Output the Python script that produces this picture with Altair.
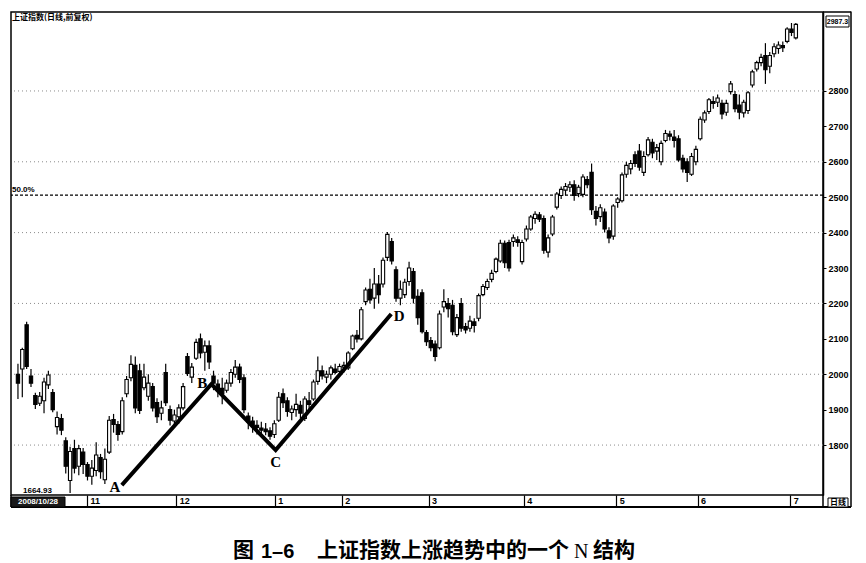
import altair as alt
import pandas as pd

# ---------------- data ----------------
opens = [2000,2015,2140,1995,1940,1918,1925,1970,1948,1852,
         1875,1812,1700,1790,1740,1780,1745,1712,1728,1765,
         1702,1780,1872,1858,1838,1945,1990,2025,2010,1962,
         1938,1965,1920,1890,2005,1900,1868,1880,1905,2050,
         1992,2045,2100,2062,2080,1995,1972,1960,1955,1975,
         2000,2020,1990,1882,1868,1856,1848,1845,1840,1830,
         1870,1945,1925,1892,1900,1912,1875,1925,1930,1980,
         2010,1992,2000,2015,2008,2020,2018,2072,2110,2100,
         2205,2240,2215,2255,2255,2330,2375,2295,2215,2225,
         2262,2290,2220,2230,2118,2095,2085,2075,2190,2200,
         2195,2112,2200,2135,2130,2148,2158,2225,2245,2268,
         2290,2320,2370,2372,2375,2380,2318,2382,2410,2440,
         2450,2440,2345,2396,2472,2505,2520,2528,2535,2510,
         2508,2550,2570,2460,2445,2458,2405,2390,2485,2490,
         2565,2580,2620,2630,2570,2620,2655,2630,2600,2660,
         2678,2670,2665,2610,2600,2565,2600,2665,2718,2742,
         2770,2768,2765,2740,2798,2790,2760,2738,2745,2817,
         2862,2880,2900,2870,2905,2920,2928,2940,2975,2950]

highs = [2030,2075,2148,2015,1948,1950,1990,2010,1958,1895,
         1888,1822,1795,1815,1800,1792,1752,1758,1808,1775,
         1790,1882,1888,1868,1935,1995,2054,2050,2030,2030,
         2000,1975,1932,1925,2030,1912,1900,1915,1975,2060,
         2032,2100,2115,2095,2095,2010,1985,1990,1985,2015,
         2040,2030,2000,1892,1880,1870,1866,1862,1850,1870,
         1950,1960,1935,1912,1945,1925,1938,1950,1985,2050,
         2025,2010,2025,2030,2030,2035,2065,2112,2125,2190,
         2245,2270,2300,2280,2330,2402,2385,2305,2265,2270,
         2318,2300,2240,2240,2125,2105,2095,2180,2240,2215,
         2210,2170,2215,2145,2165,2158,2228,2255,2270,2295,
         2330,2380,2378,2380,2395,2390,2380,2420,2450,2460,
         2458,2448,2395,2450,2515,2530,2540,2545,2548,2535,
         2565,2560,2595,2475,2480,2468,2415,2480,2500,2570,
         2600,2605,2630,2650,2630,2670,2665,2650,2660,2690,
         2688,2690,2675,2620,2610,2625,2645,2728,2745,2780,
         2785,2790,2775,2775,2828,2800,2790,2775,2800,2860,
         2885,2905,2935,2910,2935,2940,2940,2980,2992,2992]

lows = [1930,1935,2015,1964,1902,1910,1890,1958,1893,1830,
        1828,1720,1665,1720,1715,1718,1700,1688,1712,1705,
        1690,1775,1835,1812,1830,1935,1980,1890,1888,1955,
        1925,1895,1862,1870,1910,1855,1850,1860,1898,1995,
        1975,2040,2045,2010,2015,1955,1935,1915,1948,1965,
        1990,1975,1890,1845,1835,1830,1830,1828,1815,1820,
        1865,1905,1880,1870,1880,1875,1868,1900,1925,1970,
        1985,1975,1985,2000,1998,2005,2012,2068,2090,2095,
        2195,2200,2185,2200,2245,2320,2310,2205,2195,2215,
        2250,2200,2140,2115,2080,2065,2037,2070,2175,2160,
        2110,2105,2120,2115,2120,2118,2150,2220,2238,2260,
        2285,2315,2300,2290,2360,2360,2310,2375,2405,2425,
        2430,2340,2330,2390,2465,2495,2505,2515,2490,2500,
        2500,2525,2450,2420,2430,2400,2370,2380,2470,2485,
        2555,2565,2585,2575,2560,2615,2610,2605,2590,2655,
        2660,2640,2600,2570,2543,2560,2590,2660,2710,2735,
        2750,2755,2720,2730,2790,2740,2720,2725,2735,2810,
        2855,2870,2820,2850,2895,2905,2910,2935,2955,2945]

closes = [1975,2070,2022,1975,1915,1938,1978,1998,1900,1878,
          1842,1740,1782,1735,1790,1745,1712,1735,1772,1725,
          1760,1870,1858,1830,1925,1985,2028,1905,1898,1992,
          1975,1905,1880,1905,1920,1870,1885,1905,1965,2002,
          2020,2090,2060,2080,2035,1975,1955,1945,1975,2005,
          2020,1985,1900,1865,1855,1850,1842,1838,1825,1860,
          1935,1920,1895,1902,1915,1890,1930,1915,1978,2010,
          1995,2000,2018,2005,2022,2025,2060,2108,2100,2182,
          2238,2210,2255,2225,2322,2395,2320,2215,2240,2260,
          2300,2215,2160,2120,2092,2075,2050,2170,2205,2185,
          2120,2160,2130,2125,2150,2138,2222,2248,2262,2285,
          2325,2370,2315,2300,2385,2372,2372,2410,2444,2452,
          2438,2350,2385,2444,2509,2522,2530,2535,2505,2528,
          2557,2535,2465,2440,2470,2410,2385,2475,2495,2563,
          2590,2595,2595,2585,2615,2662,2625,2640,2652,2680,
          2672,2660,2605,2580,2570,2615,2635,2720,2738,2775,
          2765,2780,2735,2765,2820,2750,2740,2768,2795,2854,
          2880,2895,2860,2900,2925,2930,2922,2975,2965,2988]

month_ticks = [15.9, 36.4, 59.1, 74.5, 94.5, 116.4, 137.7, 156.4, 177.7]
month_labels = ["11", "12", "1", "2", "3", "4", "5", "6", "7"]
price_ticks = [1800, 1900, 2000, 2100, 2200, 2300, 2400, 2500, 2600, 2700, 2800]
grid_levels = [1800, 2000, 2200, 2400, 2600, 2800]
fib_level = 2506
fib_label = "50.0%"
n_labels = ["A", "B", "C", "D"]
n_idx = [23.9, 44.5, 59.3, 85.9]
n_price = [1687, 1972, 1786, 2170]
low_label = "1664.93"
low_date = "2008/10/28"
last_label = "2987.3"
title_text = "上证指数(日线,前复权)"
period_text = "日线"
caption_fig = "图"
caption_num = "1–6"
caption_main = "上证指数上涨趋势中的一个"
caption_n = "N"
caption_end = "结构"

# ---------------- tables ----------------
df = pd.DataFrame({"i": list(range(len(closes))), "open": opens, "high": highs,
                   "low": lows, "close": closes})
grid_df = pd.DataFrame({"level": grid_levels})
fib_df = pd.DataFrame({"level": [fib_level], "label": [fib_label]})
n_df = pd.DataFrame({"idx": n_idx, "price": n_price, "label": n_labels,
                     "order": list(range(len(n_labels)))})
one = pd.DataFrame({"k": [0]})

W, H = 812, 483
xs = alt.Scale(domain=[-0.45, 184.1], nice=False, zero=False)
ys = alt.Scale(domain=[1659, 3023], nice=False, zero=False)

label_expr = ("[" + ",".join("'%s'" % m for m in month_labels) + "][indexof(["
              + ",".join(str(v) for v in month_ticks) + "], datum.value)]")

x_axis = alt.Axis(values=month_ticks, labelExpr=label_expr, tickSize=11, tickColor="black",
                  tickWidth=1.2, domain=False, grid=False, labelAlign="left",
                  labelBaseline="top", labelPadding=-10, labelOffset=3, labelFontSize=9,
                  labelFontWeight="bold", labelColor="black", labelFont="Liberation Sans",
                  labelFlush=False, labelOverlap=False, title=None)
y_axis = alt.Axis(orient="right", values=price_ticks, format="d", tickSize=3,
                  tickColor="black", domain=True, domainColor="black", domainWidth=1.5,
                  labelPadding=2, labelFontSize=9, labelFontWeight="bold", labelColor="black",
                  labelFont="Liberation Sans", labelAlign="left", grid=False,
                  labelOverlap=False, labelFlush=False, title=None)

grid = alt.Chart(grid_df).mark_rule(color="#8c8c8c", strokeDash=[1, 3], strokeWidth=1).encode(
    y=alt.Y("level:Q", scale=ys, axis=y_axis))

fib = alt.Chart(fib_df).mark_rule(color="black", strokeDash=[3, 2], strokeWidth=1.3).encode(
    y=alt.Y("level:Q", scale=ys))
fib_text = alt.Chart(fib_df).mark_text(align="left", baseline="bottom", dy=-1, fontSize=8,
                                       fontWeight="bold", font="Liberation Sans",
                                       color="black").encode(
    x=alt.value(1), y=alt.Y("level:Q", scale=ys), text="label:N")

wicks = alt.Chart(df).mark_rule(color="black", strokeWidth=1.2).encode(
    x=alt.X("i:Q", scale=xs, axis=x_axis),
    y=alt.Y("low:Q", scale=ys),
    y2="high:Q")
bodies = alt.Chart(df).mark_bar(size=3.3, stroke="black", strokeWidth=1.1).encode(
    x=alt.X("i:Q", scale=xs),
    y=alt.Y("open:Q", scale=ys),
    y2="close:Q",
    fill=alt.condition("datum.close >= datum.open", alt.value("white"), alt.value("black")))

n_line = alt.Chart(n_df).mark_line(color="black", strokeWidth=4).encode(
    x=alt.X("idx:Q", scale=xs), y=alt.Y("price:Q", scale=ys), order="order:Q")

offsets = {"A": (-7, 2), "B": (-9, -1), "C": (0, 12), "D": (8, 2)}
n_texts = []
for lab in n_labels:
    dx, dy = offsets[lab]
    n_texts.append(
        alt.Chart(n_df).transform_filter(alt.datum.label == lab).mark_text(
            font="Liberation Serif", fontSize=15, fontWeight="bold", color="black",
            dx=dx, dy=dy).encode(
            x=alt.X("idx:Q", scale=xs), y=alt.Y("price:Q", scale=ys), text="label:N"))

def rule(x, y, x2=None, y2=None, w=1.5):
    enc = dict(x=alt.value(x), y=alt.value(y))
    if x2 is not None:
        enc["x2"] = alt.value(x2)
    if y2 is not None:
        enc["y2"] = alt.value(y2)
    return alt.Chart(one).mark_rule(color="black", strokeWidth=w).encode(**enc)

frame = [
    rule(840, -0.5, y2=495, w=1.5),
    rule(812, 0, x2=840, w=1.5),
    rule(0, 495, x2=840, w=2),
    rule(0, 483, y2=495, w=1.5),
    rule(812, 483, y2=495, w=1.5),
]

def txt(s, x, y, size=8, color="black", align="left", weight="bold", font="Liberation Sans"):
    return alt.Chart(pd.DataFrame({"t": [s]})).mark_text(
        align=align, baseline="middle", fontSize=size, fontWeight=weight, color=color,
        font=font).encode(x=alt.value(x), y=alt.value(y), text="t:N")

def box(x, x2, y, y2, fill, stroke="black"):
    return alt.Chart(one).mark_rect(fill=fill, stroke=stroke, strokeWidth=1).encode(
        x=alt.value(x), x2=alt.value(x2), y=alt.value(y), y2=alt.value(y2))

CJK = "Noto Sans CJK SC"
annots = [
    txt(title_text, 1, 6, size=8, font=CJK),
    txt(low_label, 12, 479, size=8),
    box(0, 54, 485, 495, "#1a1a1a"),
    txt(low_date, 27, 490, size=8, color="white", align="center"),
    box(817, 837, 486, 495, "white"),
    txt(period_text, 827, 490.5, size=8, align="center", font=CJK),
    box(815, 838, 4, 15, "white"),
    txt(last_label, 826.5, 9.5, size=7, align="center"),
    txt(caption_fig, 222, 539, size=21, font=CJK),
    txt(caption_num, 250, 540, size=20, font="Liberation Sans"),
    txt(caption_main, 306, 539, size=21, font=CJK),
    txt(caption_n, 563, 540, size=20, font="Liberation Serif", weight="normal"),
    txt(caption_end, 582, 539, size=21, font=CJK),
]

chart = alt.layer(grid, fib, fib_text, wicks, bodies, n_line, *n_texts, *frame, *annots).properties(
    width=W, height=H,
    padding={"left": 2, "top": 2, "right": 2, "bottom": 2},
    background="white",
).configure_view(stroke="black", strokeWidth=1.5)

chart.save("out.html", embed_options={"renderer": "svg", "actions": False})
